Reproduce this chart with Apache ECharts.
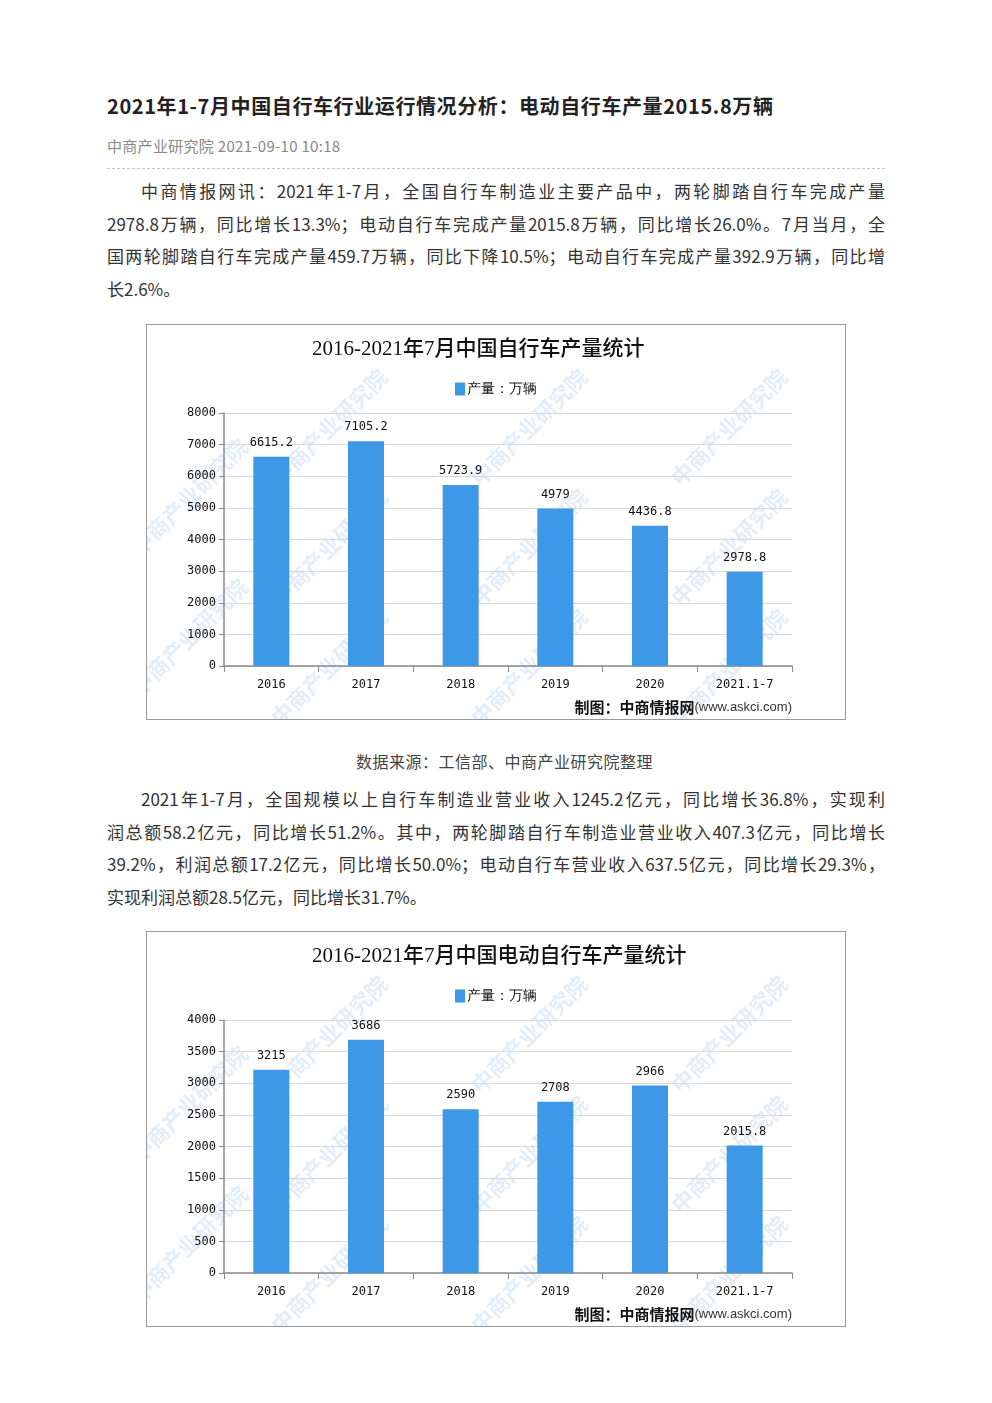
<!DOCTYPE html>
<html>
<head>
<meta charset="utf-8">
<script src="https://cdn.jsdelivr.net/npm/echarts@6/dist/echarts.min.js"></script>
<style>
  body { margin: 0; background: #fff; font-family: "Noto Sans CJK SC", "Noto Sans", sans-serif; }
  .page { position: relative; width: 992px; height: 1403px; }
  .abs { position: absolute; }
  .title { left: 107px; top: 91px; font-size: 20px; font-weight: bold; color: #222; white-space: nowrap; letter-spacing: 0.6px; }
  .meta { left: 107px; top: 135px; font-size: 15px; color: #888; white-space: nowrap; letter-spacing: 0.3px; }
  .rule { left: 107px; top: 168px; width: 778px; border-top: 1px dashed #c8c8c8; }
  .para { left: 107px; width: 778px; font-size: 17px; color: #333; }
  .para div { height: 32.7px; line-height: 32.7px; text-align: justify; text-align-last: justify; white-space: nowrap; }
  .para div.last { text-align-last: left; }
  .chartbox { left: 146px; width: 700px; height: 396px; border: 1px solid #9a9a9a; box-sizing: border-box; }
  .caption { left: 356px; top: 749px; font-size: 16px; color: #444; white-space: nowrap; letter-spacing: 0.5px; }
</style>
</head>
<body>
<div class="page">
  <div class="abs title">2021年1-7月中国自行车行业运行情况分析：电动自行车产量2015.8万辆</div>
  <div class="abs meta">中商产业研究院 2021-09-10 10:18</div>
  <div class="abs rule"></div>
  <div class="abs para" style="top:175px">
    <div style="padding-left:34px">中商情报网讯：2021年1-7月，全国自行车制造业主要产品中，两轮脚踏自行车完成产量</div>
    <div>2978.8万辆，同比增长13.3%；电动自行车完成产量2015.8万辆，同比增长26.0%。7月当月，全</div>
    <div>国两轮脚踏自行车完成产量459.7万辆，同比下降10.5%；电动自行车完成产量392.9万辆，同比增</div>
    <div class="last">长2.6%。</div>
  </div>
  <div class="abs chartbox" id="chart-one" style="top:324px"></div>
  <div class="abs caption">数据来源：工信部、中商产业研究院整理</div>
  <div class="abs para" style="top:783px">
    <div style="padding-left:34px">2021年1-7月，全国规模以上自行车制造业营业收入1245.2亿元，同比增长36.8%，实现利</div>
    <div>润总额58.2亿元，同比增长51.2%。其中，两轮脚踏自行车制造业营业收入407.3亿元，同比增长</div>
    <div>39.2%，利润总额17.2亿元，同比增长50.0%；电动自行车营业收入637.5亿元，同比增长29.3%，</div>
    <div class="last">实现利润总额28.5亿元，同比增长31.7%。</div>
  </div>
  <div class="abs chartbox" id="chart-two" style="top:931px"></div>
</div>
<script>
// 数据
var years = ["2016", "2017", "2018", "2019", "2020", "2021.1-7"];
var bikeOutput = [6615.2, 7105.2, 5723.9, 4979, 4436.8, 2978.8];
var ebikeOutput = [3215, 3686, 2590, 2708, 2966, 2015.8];

var barColor = "#3d98e8";
var monoFont = "DejaVu Sans Mono";

// 水印
function watermarks() {
  var list = [];
  var spots = [[120, 40], [320, 40], [520, 40], [120, 160], [320, 160], [520, 160],
               [120, 280], [320, 280], [520, 280], [-20, 110], [-20, 250], [700, 110], [700, 250]];
  spots.forEach(function (p) {
    list.push({
      type: "text", left: p[0], top: p[1], rotation: Math.PI / 4, silent: true, z: -1,
      style: { text: "中商产业研究院", fill: "rgba(110,165,220,0.2)", font: "bold 22px 'Noto Sans CJK SC'" }
    });
  });
  return list;
}

function makeOption(title, titleLeft, values, max, interval) {
  return {
    animation: false,
    title: {
      text: title,
      left: titleLeft,
      top: 9,
      textStyle: { fontFamily: "Liberation Serif, Noto Sans CJK SC", fontSize: 21, fontWeight: 500, color: "#111" }
    },
    legend: {
      top: 52,
      left: "center",
      itemWidth: 10,
      itemHeight: 13,
      itemGap: 4,
      icon: "rect",
      textStyle: { fontSize: 14, color: "#111", padding: [0, 0, 0, -3] },
      data: ["产量：万辆"]
    },
    grid: { left: 77, right: 53, top: 88, bottom: 53 },
    graphic: watermarks().concat([{
      type: "text", right: 53, top: 375, z: 10,
      style: {
        text: "{a|制图：中商情报网}{b|(www.askci.com)}",
        rich: {
          a: { fontSize: 15, fontWeight: "bold", fill: "#111", fontFamily: "Noto Sans CJK SC" },
          b: { fontSize: 13, fill: "#333", fontFamily: "Liberation Sans" }
        }
      }
    }]),
    xAxis: {
      type: "category",
      data: years,
      axisLine: { lineStyle: { color: "#8a8a8a", width: 1.5 } },
      axisTick: { show: true, length: 6, lineStyle: { color: "#8a8a8a" } },
      axisLabel: { color: "#111", fontSize: 12, fontFamily: monoFont, margin: 13 }
    },
    yAxis: {
      type: "value",
      min: 0,
      max: max,
      interval: interval,
      axisLine: { show: true, lineStyle: { color: "#8a8a8a", width: 1.5 } },
      axisTick: { show: true, length: 5, lineStyle: { color: "#8a8a8a" } },
      axisLabel: { color: "#111", fontSize: 12, fontFamily: monoFont, margin: 8, formatter: function (v) { return String(v); } },
      splitLine: { lineStyle: { color: "#d8d8d8" } }
    },
    series: [{
      name: "产量：万辆",
      type: "bar",
      barWidth: 36,
      itemStyle: { color: barColor },
      label: { show: true, position: "top", distance: 8, color: "#111", fontSize: 12, fontFamily: monoFont },
      data: values
    }]
  };
}

var chartOne = echarts.init(document.getElementById("chart-one"));
chartOne.setOption(makeOption("2016-2021年7月中国自行车产量统计", 160, bikeOutput, 8000, 1000));

var chartTwo = echarts.init(document.getElementById("chart-two"));
chartTwo.setOption(makeOption("2016-2021年7月中国电动自行车产量统计", 160, ebikeOutput, 4000, 500));
</script>
</body>
</html>
